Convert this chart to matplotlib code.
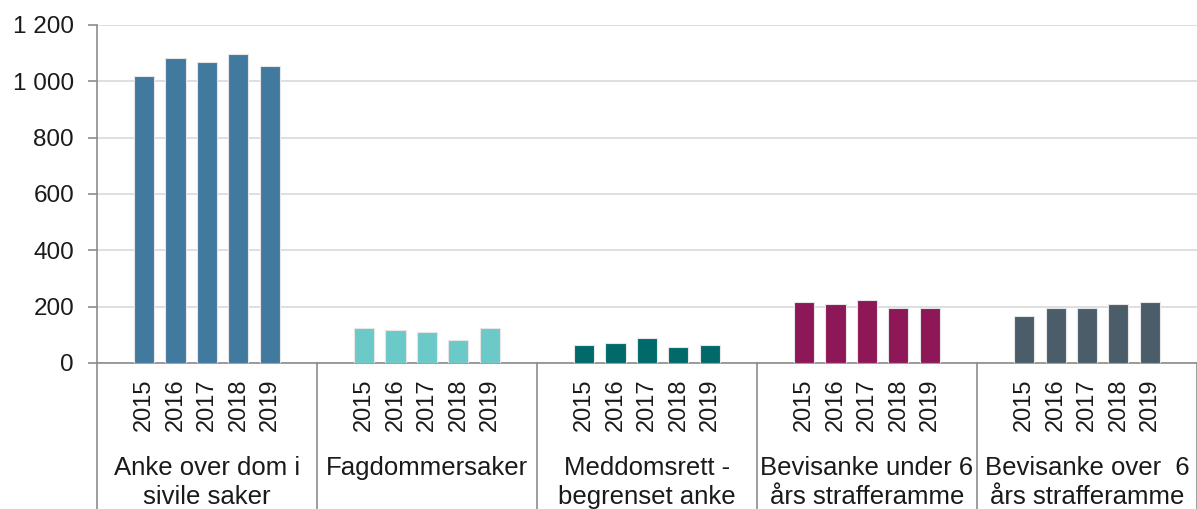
import numpy as np
import matplotlib
matplotlib.use("Agg")
import matplotlib.pyplot as plt
from matplotlib.ticker import FuncFormatter
from matplotlib.transforms import blended_transform_factory

plt.rcParams["font.family"] = ["Liberation Sans", "DejaVu Sans"]

years = ["2015", "2016", "2017", "2018", "2019"]
groups = ["Anke over dom i\nsivile saker", "Fagdommersaker", "Meddomsrett -\nbegrenset anke",
          "Bevisanke under 6\nårs strafferamme", "Bevisanke over  6\nårs strafferamme"]
anke_sivile = [1020, 1083, 1070, 1097, 1055]
fagdommer = [124, 118, 111, 83, 124]
meddomsrett = [64, 70, 90, 56, 64]
bevis_under6 = [215, 210, 224, 196, 196]
bevis_over6 = [168, 195, 195, 210, 215]
series = [anke_sivile, fagdommer, meddomsrett, bevis_under6, bevis_over6]
colors = ["#41799f", "#6bc9c7", "#006a6a", "#8e1757", "#4a5d69"]

fig = plt.figure(figsize=(11.97, 5.09), dpi=100)
ax = fig.add_axes([0.081, 0.287, 0.919, 0.664])

slots = 7
xticks, xlabels = [], []
for g, (vals, col) in enumerate(zip(series, colors)):
    x = g * slots + 1 + np.arange(len(vals))
    ax.bar(x, vals, width=0.64, color=col, edgecolor="#e6e6e6", linewidth=0.8, zorder=3)
    xticks.extend(x)
    xlabels.extend(years)

ax.set_xlim(-0.5, len(series) * slots - 0.5)
ax.set_ylim(0, 1200)
ax.set_yticks(np.arange(0, 1201, 200))
ax.yaxis.set_major_formatter(FuncFormatter(lambda v, p: f"{int(v):,}".replace(",", " ")))
ax.grid(axis="y", color="#d9d9d9", linewidth=1.2, zorder=0)

ax.set_xticks(xticks)
ax.set_xticklabels(xlabels, rotation=90, fontsize=17, color="#1a1a1a")
ax.tick_params(axis="x", length=0, pad=11)
ax.tick_params(axis="y", length=6.5, color="#8c8c8c", width=1.2, labelsize=17.5,
               labelcolor="#1a1a1a", pad=10)

for s in ["top", "right"]:
    ax.spines[s].set_visible(False)
for s in ["left", "bottom"]:
    ax.spines[s].set_color("#8c8c8c")
    ax.spines[s].set_linewidth(1.2)

trans = blended_transform_factory(ax.transData, ax.transAxes)
bottom = -0.287 / 0.664
for g in range(len(series) + 1):
    xs = g * slots - 0.5
    ax.plot([xs, xs], [0, bottom], transform=trans, color="#8c8c8c", lw=1.2, clip_on=False)
for g, name in enumerate(groups):
    ax.text(g * slots + 3, -0.275, name, transform=trans, ha="center", va="top",
            fontsize=18.5, color="#1a1a1a", linespacing=1.25)

fig.savefig("out.png", dpi=100)
